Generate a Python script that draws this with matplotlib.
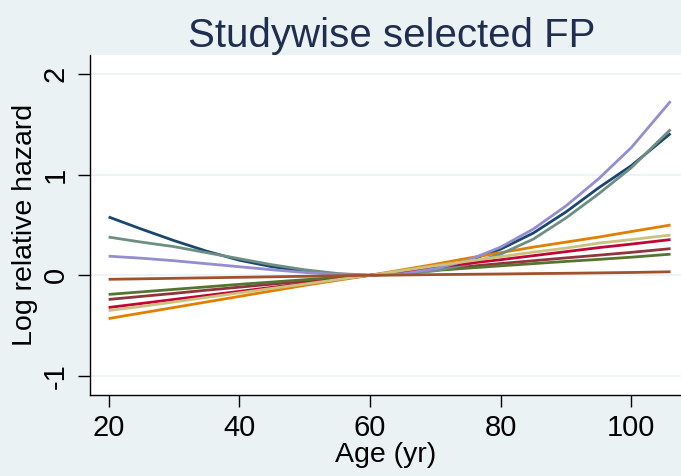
import matplotlib as mpl
import matplotlib.pyplot as plt

mpl.rcParams["font.family"] = ["Liberation Sans", "DejaVu Sans"]

# Fitted log relative hazard by age, one curve per study
ages = [20, 25, 30, 35, 40, 45, 50, 55, 60, 65, 70, 75, 80, 85, 90, 95, 100, 106]

navy = [0.58, 0.46, 0.345, 0.24, 0.15, 0.085, 0.04, 0.01, 0, 0.02, 0.07, 0.145, 0.26, 0.42, 0.63, 0.87, 1.09, 1.41]
maroon = [-0.24, -0.21, -0.18, -0.148, -0.118, -0.088, -0.058, -0.029, 0, 0.03, 0.059, 0.088, 0.117, 0.145, 0.173, 0.2, 0.228, 0.265]
green = [-0.19, -0.165, -0.14, -0.115, -0.09, -0.067, -0.044, -0.022, 0, 0.024, 0.048, 0.071, 0.094, 0.116, 0.138, 0.158, 0.18, 0.21]
orange = [-0.43, -0.375, -0.32, -0.265, -0.21, -0.155, -0.1, -0.05, 0, 0.055, 0.11, 0.17, 0.225, 0.28, 0.33, 0.38, 0.435, 0.5]
teal = [0.38, 0.33, 0.285, 0.225, 0.165, 0.105, 0.055, 0.018, 0, 0.01, 0.045, 0.11, 0.21, 0.36, 0.57, 0.81, 1.07, 1.45]
cranberry = [-0.32, -0.28, -0.24, -0.2, -0.16, -0.12, -0.08, -0.04, 0, 0.04, 0.08, 0.118, 0.155, 0.195, 0.235, 0.275, 0.31, 0.355]
lavender = [0.19, 0.17, 0.145, 0.115, 0.085, 0.055, 0.028, 0.008, 0, 0.015, 0.065, 0.15, 0.28, 0.46, 0.69, 0.96, 1.27, 1.73]
khaki = [-0.35, -0.31, -0.265, -0.22, -0.175, -0.13, -0.087, -0.043, 0, 0.048, 0.095, 0.14, 0.185, 0.23, 0.27, 0.32, 0.355, 0.4]
sienna = [-0.04, -0.035, -0.03, -0.025, -0.02, -0.015, -0.01, -0.005, 0, 0.003, 0.007, 0.01, 0.013, 0.017, 0.02, 0.024, 0.028, 0.035]

series = [navy, maroon, green, orange, teal, cranberry, lavender, khaki, sienna]
colors = ["#1a476f", "#90353b", "#55752f", "#e37e00", "#6e8e84",
          "#c10534", "#938dd2", "#cac27e", "#a0522d"]

x_ticks = [20, 40, 60, 80, 100]
y_ticks = [-1, 0, 1, 2]

BG = "#eaf2f3"

fig = plt.figure(figsize=(6.81, 4.76), dpi=100, facecolor=BG)
ax = fig.add_axes([90 / 681, 1 - 395 / 476, 1 - 90 / 681, (395 - 55) / 476])
ax.set_facecolor("white")

for vals, c in zip(series, colors):
    ax.plot(ages, vals, color=c, lw=2.0, solid_capstyle="butt")

ax.set_xlim(17.15, 107.6)
ax.set_ylim(-1.19, 2.19)
ax.set_xticks(x_ticks)
ax.set_yticks(y_ticks)
ax.set_yticklabels([str(v) for v in y_ticks], rotation=90, va="center")

ax.grid(axis="y", color=BG, lw=1.2)
ax.set_axisbelow(True)

for side in ["top", "right"]:
    ax.spines[side].set_visible(False)
for side in ["left", "bottom"]:
    ax.spines[side].set_color("black")
    ax.spines[side].set_linewidth(1.0)

ax.tick_params(axis="both", direction="out", length=8.5, width=1.0,
               labelsize=21, color="black", labelcolor="black")
ax.tick_params(axis="x", pad=5)
ax.tick_params(axis="y", pad=6)

ax.set_xlabel("Age (yr)", fontsize=20.5, labelpad=0)
ax.set_ylabel("Log relative hazard", fontsize=20.5, labelpad=3)
ax.set_title("Studywise selected FP", fontsize=29, color="#1f2d50", pad=6,
             x=0.51)

fig.savefig("out.png", dpi=100, facecolor=BG)
